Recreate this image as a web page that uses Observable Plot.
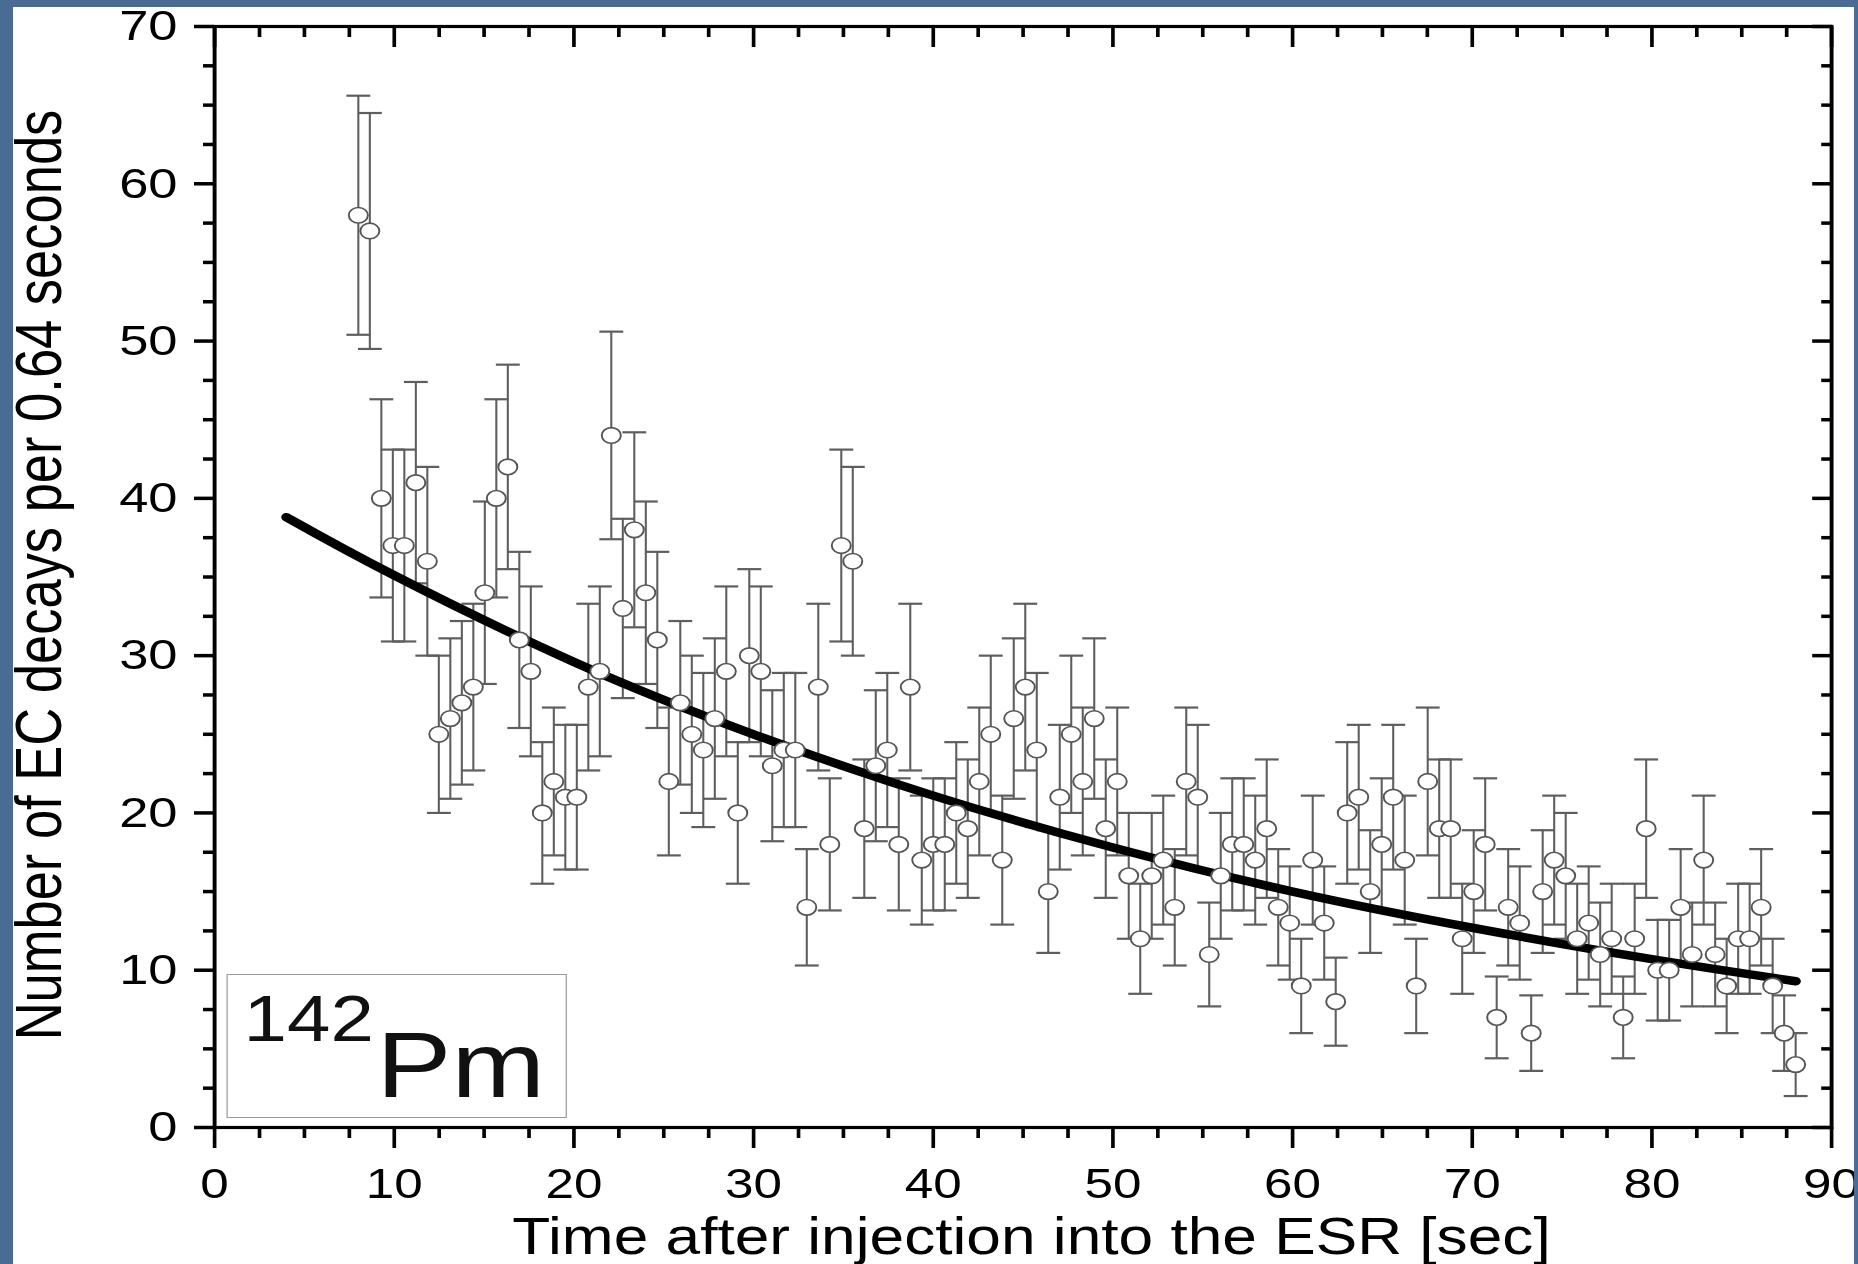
<!DOCTYPE html>
<html>
<head>
<meta charset="utf-8">
<script src="https://cdn.jsdelivr.net/npm/d3@7"></script>
<script src="https://cdn.jsdelivr.net/npm/@observablehq/plot@0.6"></script>
<style>
  html, body { margin: 0; padding: 0; }
  body { width: 1858px; height: 1264px; background: #4a6b94; position: relative; overflow: hidden;
         font-family: "Liberation Sans", Arial, sans-serif; }
  #panel { position: absolute; left: 13px; top: 7px; width: 1841px; height: 1257px; background: #fff; overflow: hidden; }
  #stretch { position: absolute; left: 0; top: 0; width: 1509px; height: 1257px; transform: scaleX(1.22); transform-origin: 0 0; }
  #chart { position: absolute; left: 0; top: 0; }
  #legend { position: absolute; left: 175px; top: 967px; width: 279px; height: 144px; box-sizing: border-box;
            border: 1.6px solid #9a9a9a; background: #fff; color: #111; }
  #legend span { position: absolute; line-height: 1; white-space: nowrap; }
  #mass { left: 13px; top: 12px; font-size: 64px; }
  #elem { left: 122px; top: 44px; font-size: 92px; }
</style>
</head>
<body>
<div id="panel">
  <div id="stretch">
    <div id="chart"></div>
    <div id="legend"><span id="mass"></span><span id="elem"></span></div>
  </div>
</div>
<script>
// ---- data ----
const times = [
  8.00, 8.64, 9.28, 9.92, 10.56, 11.20, 11.84, 12.48, 13.12, 13.76,
  14.40, 15.04, 15.68, 16.32, 16.96, 17.60, 18.24, 18.88, 19.52, 20.16,
  20.80, 21.44, 22.08, 22.72, 23.36, 24.00, 24.64, 25.28, 25.92, 26.56,
  27.20, 27.84, 28.48, 29.12, 29.76, 30.40, 31.04, 31.68, 32.32, 32.96,
  33.60, 34.24, 34.88, 35.52, 36.16, 36.80, 37.44, 38.08, 38.72, 39.36,
  40.00, 40.64, 41.28, 41.92, 42.56, 43.20, 43.84, 44.48, 45.12, 45.76,
  46.40, 47.04, 47.68, 48.32, 48.96, 49.60, 50.24, 50.88, 51.52, 52.16,
  52.80, 53.44, 54.08, 54.72, 55.36, 56.00, 56.64, 57.28, 57.92, 58.56,
  59.20, 59.84, 60.48, 61.12, 61.76, 62.40, 63.04, 63.68, 64.32, 64.96,
  65.60, 66.24, 66.88, 67.52, 68.16, 68.80, 69.44, 70.08, 70.72, 71.36,
  72.00, 72.64, 73.28, 73.92, 74.56, 75.20, 75.84, 76.48, 77.12, 77.76,
  78.40, 79.04, 79.68, 80.32, 80.96, 81.60, 82.24, 82.88, 83.52, 84.16,
  84.80, 85.44, 86.08, 86.72, 87.36, 88.00
];
const counts = [
  58, 57, 40, 37, 37, 41, 36, 25, 26, 27,
  28, 34, 40, 42, 31, 29, 20, 22, 21, 21,
  28, 29, 44, 33, 38, 34, 31, 22, 27, 25,
  24, 26, 29, 20, 30, 29, 23, 24, 24, 14,
  28, 18, 37, 36, 19, 23, 24, 18, 28, 17,
  18, 18, 20, 19, 22, 25, 17, 26, 28, 24,
  15, 21, 25, 22, 26, 19, 22, 16, 12, 16,
  17, 14, 22, 21, 11, 16, 18, 18, 17, 19,
  14, 13, 9, 17, 13, 8, 20, 21, 15, 18,
  21, 17, 9, 22, 19, 19, 12, 15, 18, 7,
  14, 13, 6, 15, 17, 16, 12, 13, 11, 12,
  7, 12, 19, 10, 10, 14, 11, 17, 11, 9,
  12, 12, 14, 9, 6, 4
];
const errors = [
  7.6, 7.5, 6.3, 6.1, 6.1, 6.4, 6.0, 5.0, 5.1, 5.2,
  5.3, 5.8, 6.3, 6.5, 5.6, 5.4, 4.5, 4.7, 4.6, 4.6,
  5.3, 5.4, 6.6, 5.7, 6.2, 5.8, 5.6, 4.7, 5.2, 5.0,
  4.9, 5.1, 5.4, 4.5, 5.5, 5.4, 4.8, 4.9, 4.9, 3.7,
  5.3, 4.2, 6.1, 6.0, 4.4, 4.8, 4.9, 4.2, 5.3, 4.1,
  4.2, 4.2, 4.5, 4.4, 4.7, 5.0, 4.1, 5.1, 5.3, 4.9,
  3.9, 4.6, 5.0, 4.7, 5.1, 4.4, 4.7, 4.0, 3.5, 4.0,
  4.1, 3.7, 4.7, 4.6, 3.3, 4.0, 4.2, 4.2, 4.1, 4.4,
  3.7, 3.6, 3.0, 4.1, 3.6, 2.8, 4.5, 4.6, 3.9, 4.2,
  4.6, 4.1, 3.0, 4.7, 4.4, 4.4, 3.5, 3.9, 4.2, 2.6,
  3.7, 3.6, 2.4, 3.9, 4.1, 4.0, 3.5, 3.6, 3.3, 3.5,
  2.6, 3.5, 4.4, 3.2, 3.2, 3.7, 3.3, 4.1, 3.3, 3.0,
  3.5, 3.5, 3.7, 3.0, 2.4, 2.0
];
const fitTimes  = [4, 10, 20, 30, 40, 50, 60, 70, 80, 88];
const fitCounts = [38.8, 35.1, 29.6, 25.0, 21.1, 17.8, 15.0, 12.7, 10.7, 9.3];
const xTicks = [0, 10, 20, 30, 40, 50, 60, 70, 80, 90];
const yTicks = [0, 10, 20, 30, 40, 50, 60, 70];
const xMinorTicks = d3.range(0, 90.01, 2.5).filter(v => v % 10 !== 0);
const yMinorTicks = d3.range(0, 70.01, 2.5).filter(v => v % 10 !== 0);
const xTitle = "Time after injection into the ESR [sec]";
const yTitle = "Number of EC decays per 0.64 seconds";
const legendMass = "142";
const legendElement = "Pm";

// ---- build tables ----
const points = times.map((t, i) => ({t, n: counts[i], e: errors[i]}));
const fit = fitTimes.map((t, i) => ({t, n: fitCounts[i]}));

const capSymbol = {
  draw(context, size) {
    const w = Math.sqrt(size / Math.PI);
    context.moveTo(-w, 0);
    context.lineTo(w, 0);
  }
};
const blank = () => "";
const barColor = "#5e5e5e";

const chart = Plot.plot({
  width: 1509,
  height: 1257,
  marginLeft: 164.75,
  marginRight: 18.85,
  marginTop: 19,
  marginBottom: 137,
  style: {fontFamily: "'Liberation Sans', Arial, sans-serif", color: "#000", background: "transparent", overflow: "visible"},
  x: {domain: [0, 90], label: null},
  y: {domain: [0, 70], label: null},
  marks: [
    // error bars
    Plot.ruleX(points, {x: "t", y1: d => d.n - d.e, y2: d => d.n + d.e, stroke: barColor, strokeWidth: 1.7}),
    Plot.dot(points, {x: "t", y: d => d.n + d.e, symbol: capSymbol, r: 9.8, stroke: barColor, strokeWidth: 2.2, fill: "none"}),
    Plot.dot(points, {x: "t", y: d => d.n - d.e, symbol: capSymbol, r: 9.8, stroke: barColor, strokeWidth: 2.2, fill: "none"}),
    // fitted decay curve
    Plot.line(fit, {x: "t", y: "n", curve: "natural", stroke: "#000", strokeWidth: 8.5}),
    // data points
    Plot.dot(points, {x: "t", y: "n", r: 7.8, fill: "#fff", stroke: "#555", strokeWidth: 1.6}),
    // frame
    Plot.frame({stroke: "#000", strokeWidth: 3.2}),
    // bottom axis
    Plot.axisX(xTicks, {anchor: "bottom", tickSize: 21, tickPadding: 20, fontSize: 42, strokeWidth: 3, label: null}),
    Plot.axisX(xMinorTicks, {anchor: "bottom", tickSize: 11, tickFormat: blank, strokeWidth: 3, label: null}),
    // top axis (inward ticks)
    Plot.axisX(xTicks, {anchor: "top", tickSize: 20, dy: 20, tickFormat: blank, strokeWidth: 3, label: null}),
    Plot.axisX(xMinorTicks, {anchor: "top", tickSize: 10, dy: 10, tickFormat: blank, strokeWidth: 3, label: null}),
    // left axis
    Plot.axisY(yTicks, {anchor: "left", tickSize: 16.4, tickPadding: 14, fontSize: 43, strokeWidth: 3.5, label: null}),
    Plot.axisY(yMinorTicks, {anchor: "left", tickSize: 9, tickFormat: blank, strokeWidth: 3.5, label: null}),
    // right axis (inward ticks)
    Plot.axisY(yTicks, {anchor: "right", tickSize: 16.4, dx: -16.4, tickFormat: blank, strokeWidth: 3.5, label: null}),
    Plot.axisY(yMinorTicks, {anchor: "right", tickSize: 9, dx: -9, tickFormat: blank, strokeWidth: 3.5, label: null}),
    // axis titles
    Plot.text([xTitle], {text: d => d, frameAnchor: "bottom", dx: 6.9, dy: 110, lineAnchor: "middle", textAnchor: "middle", fontSize: 51, fill: "#000"}),
    Plot.text([yTitle], {text: d => d, frameAnchor: "left", dx: -142.5, dy: -2, rotate: -90, lineAnchor: "middle", textAnchor: "middle", fontSize: 52.5, fill: "#000"})
  ]
});
document.getElementById("chart").appendChild(chart);
document.getElementById("mass").textContent = legendMass;
document.getElementById("elem").textContent = legendElement;
</script>
</body>
</html>
